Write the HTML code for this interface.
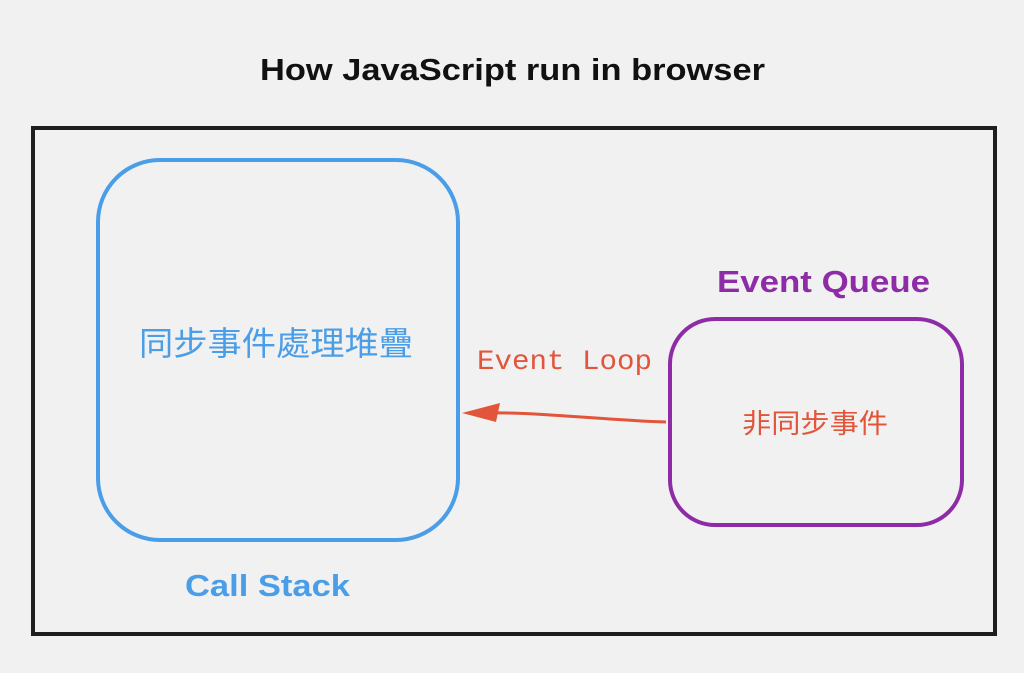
<!DOCTYPE html>
<html><head><meta charset="utf-8"><style>
html,body{margin:0;padding:0;background:#f2f2f2;width:1024px;height:673px;overflow:hidden}
</style></head><body>
<svg width="1024" height="673" xmlns="http://www.w3.org/2000/svg">
<rect width="1024" height="673" fill="#f1f1f1"/>
<text x="260" y="80" textLength="505" lengthAdjust="spacingAndGlyphs" font-family="Liberation Sans, sans-serif" font-weight="bold" font-size="31" fill="#111">How JavaScript run in browser</text>
<rect x="33" y="128" width="962" height="506" fill="none" stroke="#1e1e1e" stroke-width="4"/>
<rect x="98" y="160" width="360" height="380" rx="62" fill="none" stroke="#4a9ee8" stroke-width="4"/>
<text x="139" y="355" textLength="274" lengthAdjust="spacingAndGlyphs" font-family="Liberation Sans, 'Noto Sans CJK TC', sans-serif" font-size="33" fill="#4a9ee8">同步事件處理堆疊</text>
<text x="185" y="596" textLength="165" lengthAdjust="spacingAndGlyphs" font-family="Liberation Sans, sans-serif" font-weight="bold" font-size="31" fill="#4a9ee8">Call Stack</text>
<rect x="670" y="319" width="292" height="206" rx="45" fill="none" stroke="#8e2ca8" stroke-width="4"/>
<text x="717" y="292" textLength="213" lengthAdjust="spacingAndGlyphs" font-family="Liberation Sans, sans-serif" font-weight="bold" font-size="31" fill="#8e2ca8">Event Queue</text>
<text x="742" y="433" textLength="146" lengthAdjust="spacingAndGlyphs" font-family="Liberation Sans, 'Noto Sans CJK TC', sans-serif" font-size="27" fill="#e2553a">非同步事件</text>
<text x="477" y="369" textLength="175" lengthAdjust="spacingAndGlyphs" font-family="Liberation Mono, monospace" font-size="28" fill="#e2553a">Event Loop</text>
<path d="M666 422 C600 420 540 412 490 413" fill="none" stroke="#e2553a" stroke-width="3"/>
<polygon points="462,413 500,403 496,422" fill="#e2553a"/>
</svg>
</body></html>
